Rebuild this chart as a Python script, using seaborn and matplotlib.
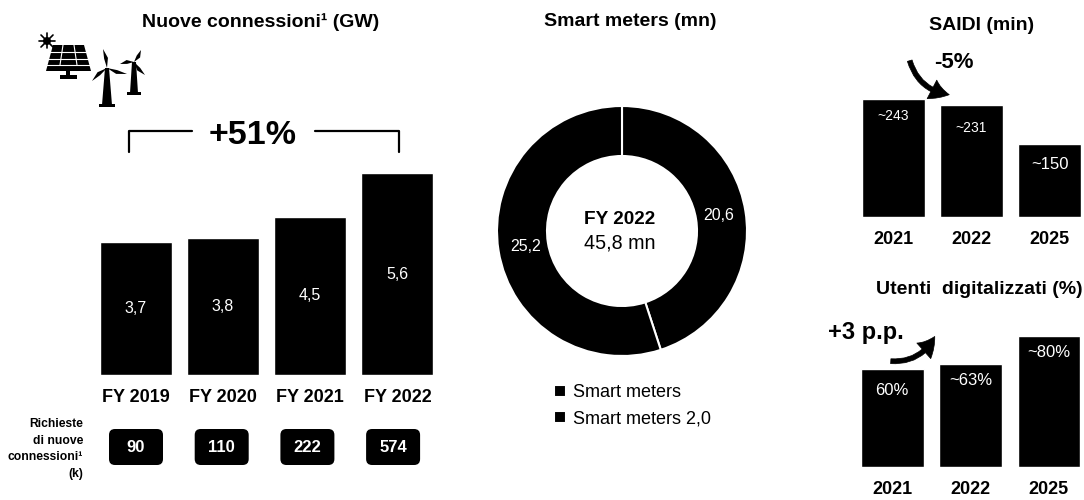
import matplotlib
matplotlib.use('Agg')
import matplotlib.pyplot as plt
import seaborn as sns
from matplotlib.patches import FancyArrowPatch, FancyBboxPatch, Polygon, Rectangle

# 数据
conn_years = ['FY 2019', 'FY 2020', 'FY 2021', 'FY 2022']
conn_gw = [3.7, 3.8, 4.4, 5.6]
conn_labels = ['3,7', '3,8', '4,5', '5,6']
req_k = ['90', '110', '222', '574']

meter_names = ['Smart meters', 'Smart meters 2,0']
meter_mn = [20.6, 25.2]

saidi_years = ['2021', '2022', '2025']
saidi_min = [243, 231, 150]
saidi_labels = ['~243', '~231', '~150']

digital_years = ['2021', '2022', '2025']
digital_pct = [60, 63, 80]
digital_labels = ['60%', '~63%', '~80%']

sns.set_theme(style='white')
plt.rcParams['font.family'] = ['Liberation Sans', 'DejaVu Sans']
plt.rcParams['text.color'] = 'black'
plt.rcParams['xtick.color'] = 'black'

W, H = 1084, 500
fig = plt.figure(figsize=(W / 100, H / 100), dpi=100, facecolor='white')


def px_axes(x0, y0, x1, y1):
    # 像素坐标(左上原点)转成 figure 坐标
    ax = fig.add_axes([x0 / W, 1 - y1 / H, (x1 - x0) / W, (y1 - y0) / H])
    ax.patch.set_visible(False)
    return ax


def bars(ax, cats, vals, top, width, pad):
    sns.barplot(x=cats, y=vals, color='black', saturation=1, width=width, ax=ax)
    ax.set_ylim(0, top)
    ax.set_xlim(-0.5, len(cats) - 0.5)
    ax.set_yticks([])
    ax.tick_params(axis='x', length=0, pad=pad)
    plt.setp(ax.get_xticklabels(), fontweight='bold', fontsize=13, color='black')
    sns.despine(ax=ax, left=True, bottom=True)


# 新增连接柱状图
ax1 = px_axes(92, 159, 441, 375)
bars(ax1, conn_years, conn_gw, 6, 0.825, 10)
ax1.bar_label(ax1.containers[0], labels=conn_labels, label_type='center',
              color='white', fontsize=11.5)

# 环形图
ax2 = px_axes(492, 101, 752, 361)
wedges, _, autotexts = ax2.pie(
    meter_mn, startangle=90, counterclock=False, radius=1,
    autopct=lambda p: f'{p * sum(meter_mn) / 100:.1f}'.replace('.', ','),
    pctdistance=0.78,
    wedgeprops={'width': 0.4, 'edgecolor': 'white', 'linewidth': 1.5},
    colors=['black', 'black'])
ax2.set_xlim(-1.04, 1.04)
ax2.set_ylim(-1.04, 1.04)
for t in autotexts:
    t.set_color('white')
    t.set_fontsize(11.5)
ax2.legend(wedges, meter_names, loc='upper left', bbox_to_anchor=(0.24, -0.09),
           frameon=False, fontsize=13, handlelength=0.65, handleheight=0.65,
           handletextpad=0.4, labelspacing=0.5, borderpad=0, borderaxespad=0)

# SAIDI
ax3 = px_axes(854, 95.25, 1089, 217)
bars(ax3, saidi_years, saidi_min, 250, 0.8, 10)
for i, (v, s, off) in enumerate(zip(saidi_min, saidi_labels, [17, 23, 21])):
    ax3.annotate(s, xy=(i, v), xytext=(0, -off), textcoords='offset pixels',
                 ha='center', va='center', color='white',
                 fontsize=[10, 10, 12][i])

# 数字化用户
ax4 = px_axes(853, 328, 1088, 467)
bars(ax4, digital_years, digital_pct, 85, 0.8, 10)
for i, (v, s, off) in enumerate(zip(digital_pct, digital_labels, [22, 17, 16])):
    ax4.annotate(s, xy=(i, v), xytext=(0, -off), textcoords='offset pixels',
                 ha='center', va='center', color='white', fontsize=12)

# 覆盖层：标题、括号、图标、箭头，单位是像素
ov = px_axes(0, 0, W, H)
ov.set_xlim(0, W)
ov.set_ylim(H, 0)
ov.axis('off')

ov.text(261, 22, 'Nuove connessioni¹ (GW)', ha='center', va='center', fontsize=14, fontweight='bold')
ov.text(630, 22, 'Smart meters (mn)', ha='center', va='center', fontsize=14, fontweight='bold')
ov.text(982, 26, 'SAIDI (min)', ha='center', va='center', fontsize=14, fontweight='bold')
ov.text(979, 290, 'Utenti  digitalizzati (%)', ha='center', va='center', fontsize=14, fontweight='bold')

ov.text(620, 219, 'FY 2022', ha='center', va='center', fontsize=13.7, fontweight='bold')
ov.text(620, 243, '45,8 mn', ha='center', va='center', fontsize=14.2)

# +51% 括号
ov.plot([129, 129, 192], [152, 131, 131], color='black', lw=1.6)
ov.plot([315, 399, 399], [131, 131, 152], color='black', lw=1.6)
ov.text(253, 135, '+51%', ha='center', va='center', fontsize=24.5, fontweight='bold')

# 新连接请求
ov.text(83, 449, 'Richieste\ndi nuove\nconnessioni¹\n(k)', ha='right', va='center',
        fontsize=8.7, fontweight='bold', linespacing=1.5)
for i, s in enumerate(req_k):
    cx = 136 + i * 85.7
    ov.add_patch(FancyBboxPatch((cx - 22, 434), 44, 26, boxstyle='round,pad=5,rounding_size=6',
                                fc='black', ec='none'))
    ov.text(cx, 447, s, ha='center', va='center', color='white', fontsize=12, fontweight='bold')

# 箭头
ov.text(954, 63, '-5%', ha='center', va='center', fontsize=16, fontweight='bold')
ov.add_patch(FancyArrowPatch((909, 58), (952, 95), connectionstyle='arc3,rad=0.35',
                             arrowstyle='simple,tail_width=3.5,head_width=15,head_length=13',
                             fc='black', ec='black', lw=0.5, mutation_scale=1))
ov.text(866, 332, '+3 p.p.', ha='center', va='center', fontsize=17, fontweight='bold')
ov.add_patch(FancyArrowPatch((888, 361), (936, 334), connectionstyle='arc3,rad=0.35',
                             arrowstyle='simple,tail_width=3.5,head_width=15,head_length=13',
                             fc='black', ec='black', lw=0.5, mutation_scale=1))

# 太阳能板图标
ov.add_patch(Polygon([[53, 45], [84, 45], [91, 71], [46, 71]], fc='black', ec='none'))
for y in [52, 59, 65]:
    ov.plot([46, 91], [y, y], color='white', lw=0.8)
for top_x, bot_x in [(63, 60), (74, 77)]:
    ov.plot([top_x, bot_x], [45, 65], color='white', lw=0.8)
ov.add_patch(Rectangle((66, 71), 4, 6, fc='black', ec='none'))
ov.add_patch(Rectangle((60, 75), 17, 4, fc='black', ec='none'))
ov.plot([39, 55], [41, 41], color='black', lw=1.2)
ov.plot([47, 47], [33, 48], color='black', lw=1.2)
ov.plot([41, 53], [35, 47], color='black', lw=1.2)
ov.plot([41, 53], [47, 35], color='black', lw=1.2)
ov.add_patch(plt.Circle((47, 41), 4, fc='black', ec='none'))

# 风机图标
for hub, blades, base_y, w in [
    ((107, 68), [(103, 49), (127, 74), (92, 81)], 107, 5),
    ((134, 62), [(141, 50), (120, 64), (145, 75)], 95, 4),
]:
    hx, hy = hub
    ov.add_patch(Polygon([[hx - 2, hy], [hx + 2, hy], [hx + w, base_y - 2], [hx - w, base_y - 2]],
                         fc='black', ec='none'))
    ov.add_patch(Rectangle((hx - w - 3, base_y - 3), 2 * w + 6, 3, fc='black', ec='none'))
    for bx, by in blades:
        nx, ny = -(by - hy), bx - hx
        n = (nx ** 2 + ny ** 2) ** 0.5
        nx, ny = nx / n * 3, ny / n * 3
        ov.add_patch(Polygon([[hx, hy], [(hx + bx) / 2 + nx, (hy + by) / 2 + ny], [bx, by],
                              [(hx + bx) / 2 - nx * 0.3, (hy + by) / 2 - ny * 0.3]],
                             fc='black', ec='none'))

fig.savefig('out.png', dpi=100)
